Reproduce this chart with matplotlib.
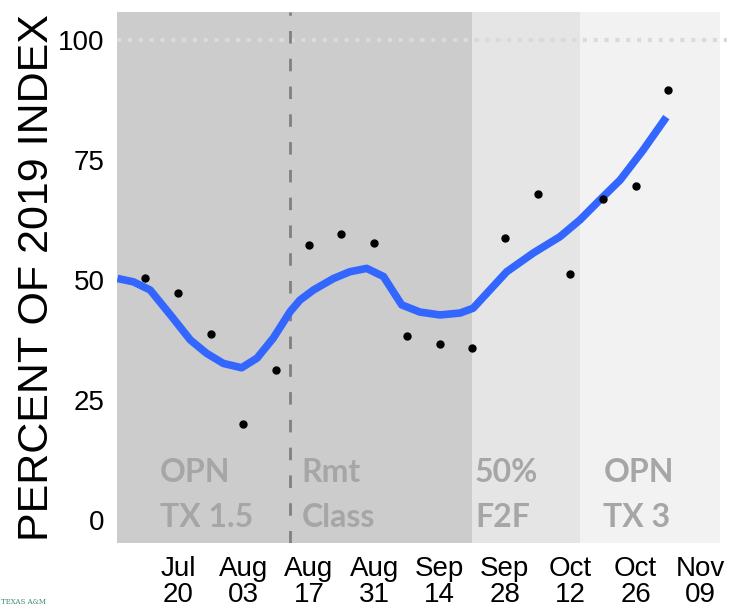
import matplotlib.pyplot as plt
import numpy as np

# days counted from Jul 20
tick_days = [0, 14, 28, 42, 56, 70, 84, 98, 112]
tick_labels = ["Jul\n20", "Aug\n03", "Aug\n17", "Aug\n31", "Sep\n14",
               "Sep\n28", "Oct\n12", "Oct\n26", "Nov\n09"]

# weekly points
dot_days = [-7, 0, 7, 14, 21, 28, 35, 42, 49, 56, 63, 70, 77, 84, 91, 98, 105]
dot_vals = [50.4, 47.3, 38.8, 20.0, 31.3, 57.3, 59.6, 57.7, 38.3, 36.7,
            35.8, 58.8, 67.9, 51.2, 66.9, 69.6, 89.6]

# smoothed trend
line_days = [-13.0, -9.6, -6.0, -1.4, 2.6, 6.1, 9.7, 13.6, 16.9, 20.4, 24.0,
             26.1, 29.0, 33.3, 36.8, 40.4, 44.0, 47.9, 51.8, 56.1, 60.4, 63.2,
             66.8, 70.4, 76.1, 81.8, 86.1, 90.4, 94.7, 99.6, 104.6]
line_vals = [50.3, 49.6, 47.9, 42.4, 37.5, 34.7, 32.6, 31.7, 33.7, 37.9, 43.4,
             45.8, 47.9, 50.3, 51.7, 52.4, 50.7, 44.8, 43.3, 42.7, 43.1, 44.1,
             47.9, 51.7, 55.6, 59.0, 62.5, 66.7, 70.8, 77.0, 83.9]

# phases: start, end, colour, label
phase_start = [-13.1, 63, 86]
phase_end = [63, 86, 116]
phase_color = ["#cccccc", "#e5e5e5", "#f2f2f2"]
remote_day = 24

labels = [("OPN", "TX 1.5"), ("Rmt", "Class"), ("50%", "F2F"), ("OPN", "TX 3")]
label_x = [-3.9, 26.5, 63.6, 91.1]

fig = plt.figure(figsize=(7.29, 6.10), dpi=100)
ax = fig.add_axes([117 / 729, 1 - 543 / 610, 610 / 729, 531 / 610])

for s, e, c in zip(phase_start, phase_end, phase_color):
    ax.axvspan(s, e, color=c, lw=0, zorder=0)

ax.axhline(100, color="#dadada", lw=3, linestyle=(0, (1, 1.6)), zorder=1)
ax.axvline(remote_day, color="#808080", lw=2, linestyle=(0, (4.5, 5.5)), zorder=1)

for x, (l1, l2) in zip(label_x, labels):
    ax.text(x, 7.9, l1, color="#a6a6a6", fontsize=23, fontweight="bold",
            family="Lato", va="baseline", ha="left", zorder=2)
    ax.text(x, -1.5, l2, color="#a6a6a6", fontsize=23, fontweight="bold",
            family="Lato", va="baseline", ha="left", zorder=2)

ax.plot(line_days, line_vals, color="#3366ff", lw=5.5, solid_capstyle="butt", zorder=3)
ax.scatter(dot_days, dot_vals, s=25, color="black", zorder=4)

ax.set_xlim(-13.1, 117.6)
ax.set_ylim(-4.8, 105.8)
ax.set_xticks(tick_days)
ax.set_xticklabels(tick_labels, family="Liberation Sans", fontsize=20, linespacing=1.0)
ax.set_yticks([0, 25, 50, 75, 100])
ax.set_yticklabels(["0", "25", "50", "75", "100"], family="Liberation Sans", fontsize=20)
ax.tick_params(length=0, pad=9)
for sp in ax.spines.values():
    sp.set_visible(False)

ax.set_ylabel("PERCENT OF 2019 INDEX", family="Liberation Sans", fontsize=31)
ax.yaxis.set_label_coords(-0.098, 0.5)

fig.text(0.002, 0.01, "TEXAS A&M", color="#3a8f6a", fontsize=5, family="DejaVu Serif")

fig.savefig("out.png", dpi=100)
